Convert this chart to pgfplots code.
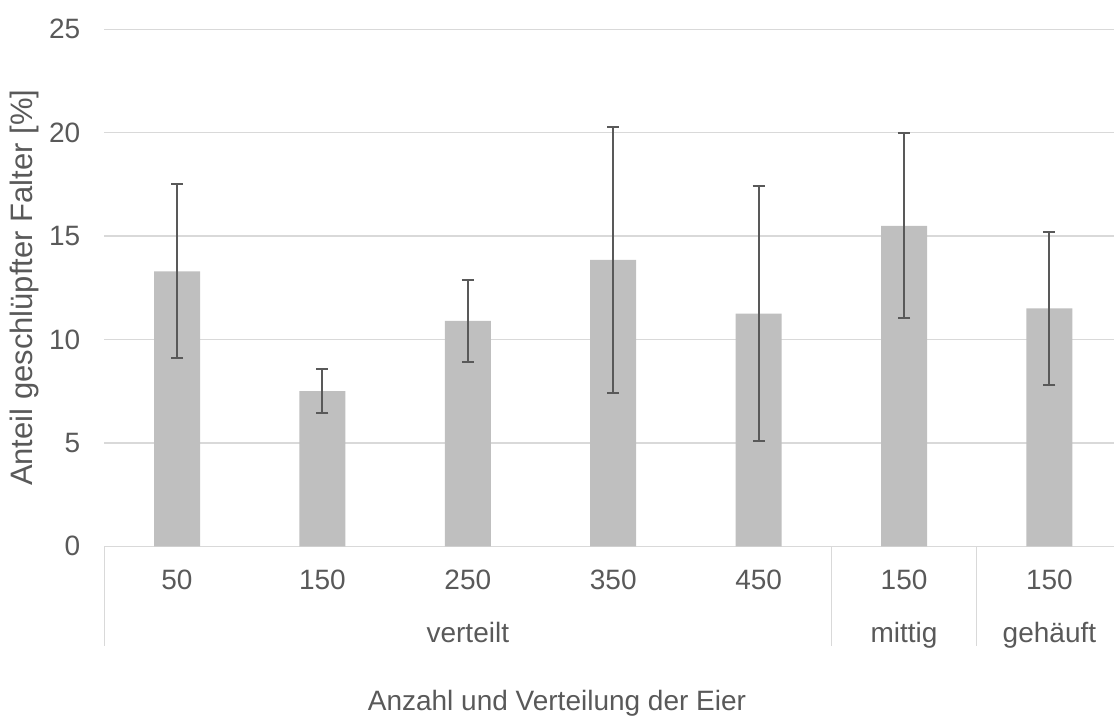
\documentclass[border=0pt]{standalone}
\usepackage{pgfplots}
\pgfplotsset{compat=1.18}
\usepackage{pgfplotstable}
\usepackage{fontspec}
\setmainfont{Liberation Sans}
\definecolor{barc}{HTML}{BFBFBF}
\definecolor{errc}{HTML}{595959}
\definecolor{gridc}{HTML}{D9D9D9}
\definecolor{txtc}{HTML}{595959}
\pgfplotstableread{
x y err
0 13.3 4.2
1 7.5 1.06
2 10.9 1.98
3 13.85 6.43
4 11.25 6.17
5 15.5 4.48
6 11.5 3.68
}\datatable
\begin{document}
\begin{tikzpicture}
\useasboundingbox (-52.15pt,-85.8pt) rectangle (504.85pt,273.15pt);
\begin{axis}[
  at={(0pt,0pt)}, anchor=south west,
  scale only axis, width=504.85pt, height=258.5pt,
  xmin=-0.5, xmax=6.444, ymin=0, ymax=25,
  ytick={0,5,...,25},
  xtick={0,...,6},
  xticklabels={50,150,250,350,450,150,150},
  major tick length=0pt,
  ymajorgrids,
  grid style={gridc, line width=0.75pt},
  axis line style={draw=none},
  clip=false,
  font=\fontsize{14}{16}\selectfont,
  tick label style={txtc, font=\fontsize{14}{16}\selectfont},
  /pgf/number format/assume math mode=true,
  yticklabel style={xshift=-8.5pt},
  xticklabel style={anchor=center, yshift=-17pt},
  xlabel={Anzahl und Verteilung der Eier},
  ylabel={Anteil geschlüpfter Falter [\%]},
  every axis x label/.style={at={(axis description cs:0.4483,0)}, anchor=base, yshift=-82pt, txtc, font=\fontsize{14}{16}\selectfont},
  every axis y label/.style={at={(axis description cs:-0.0792,0.5)}, rotate=90, anchor=center, txtc, font=\fontsize{15.5}{18}\selectfont},
]
\addplot[ybar, bar width=23pt, fill=barc, draw=none,
  error bars/.cd, y dir=both, y explicit,
  error bar style={errc, line width=1pt},
  error mark options={errc, rotate=90, mark size=3pt, line width=1pt}]
  table[x=x, y=y, y error=err] {\datatable};
\draw[gridc, line width=0.75pt] (axis cs:-0.5,0) -- ++(0pt,-50pt);
\draw[gridc, line width=0.75pt] (axis cs:4.5,0) -- ++(0pt,-50pt);
\draw[gridc, line width=0.75pt] (axis cs:5.5,0) -- ++(0pt,-50pt);
\node[txtc, font=\fontsize{14}{16}\selectfont, anchor=base] at (axis cs:2,0) [yshift=-48pt] {verteilt};
\node[txtc, font=\fontsize{14}{16}\selectfont, anchor=base] at (axis cs:5,0) [yshift=-48pt] {mittig};
\node[txtc, font=\fontsize{14}{16}\selectfont, anchor=base] at (axis cs:6,0) [yshift=-48pt] {gehäuft};
\end{axis}
\end{tikzpicture}
\end{document}
